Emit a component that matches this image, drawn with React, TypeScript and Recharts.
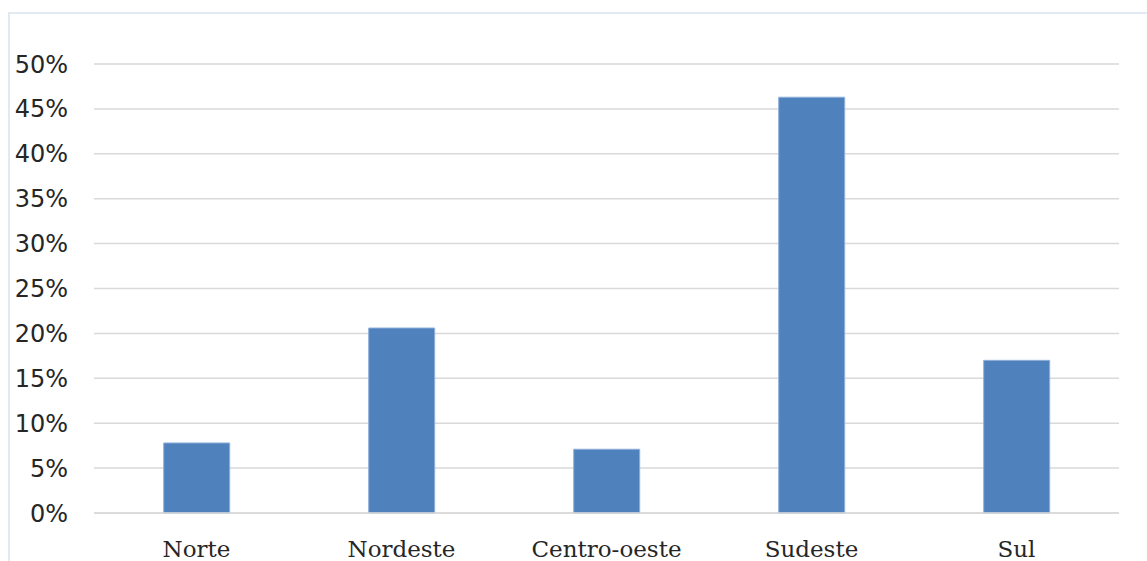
import { BarChart, Bar, XAxis, YAxis, CartesianGrid } from 'recharts';

const regions = ['Norte', 'Nordeste', 'Centro-oeste', 'Sudeste', 'Sul'];
const shares = [7.8, 20.6, 7.1, 46.3, 17.0];
const yTicks = [0, 5, 10, 15, 20, 25, 30, 35, 40, 45, 50];

const data = regions.map((name, i) => ({ name, value: shares[i] }));

export default function App() {
  return (
    <div style={{ position: 'absolute', left: 0, top: 0, width: 1147, height: 561, overflow: 'hidden', background: '#fff' }}>
      <div style={{ position: 'absolute', left: 8, top: 12, width: 1200, height: 600, borderTop: '2px solid #e3e9f1', borderLeft: '2px solid #e3e9f1' }} />
      <BarChart width={1147} height={561} data={data} margin={{ top: 64, right: 28, bottom: 0, left: 0 }} barCategoryGap="34%">
        <CartesianGrid vertical={false} stroke="#d9d9d9" strokeWidth={1.5} />
        <XAxis dataKey="name" height={48} axisLine={{ stroke: '#d9d9d9', strokeWidth: 1.5 }} tickLine={false} tickMargin={22}
          tick={{ fill: '#262626', fontSize: 23, fontFamily: 'DejaVu Serif' }} interval={0} />
        <YAxis width={94} domain={[0, 50]} ticks={yTicks} axisLine={false} tickLine={false} tickMargin={20}
          tickFormatter={(v: number) => `${v}%`} tick={{ fill: '#262626', fontSize: 24, fontFamily: 'DejaVu Sans' }} />
        <Bar dataKey="value" fill="#4f81bd" stroke="#8eb0da" strokeWidth={1} isAnimationActive={false} />
      </BarChart>
    </div>
  );
}
